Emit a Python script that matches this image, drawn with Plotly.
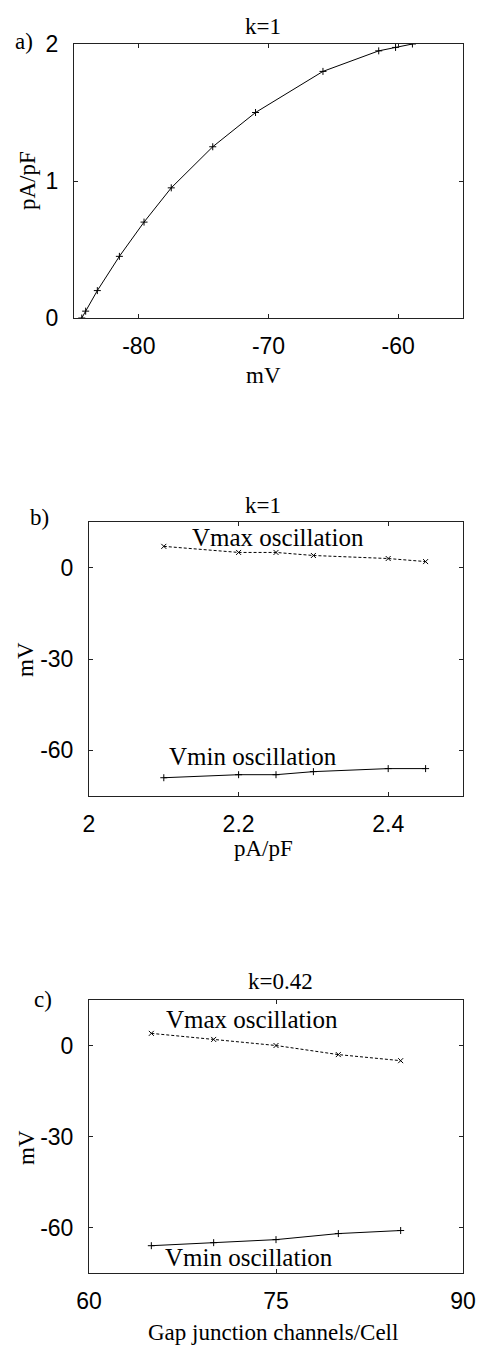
import plotly.graph_objects as go

# ---- data ----
a_mv = [-84.4, -84.1, -83.2, -81.5, -79.6, -77.5, -74.3, -71.0, -65.8, -61.5, -60.2, -58.9]
a_current = [0.0, 0.05, 0.2, 0.45, 0.7, 0.95, 1.25, 1.5, 1.8, 1.95, 1.975, 2.0]

b_current = [2.1, 2.2, 2.25, 2.3, 2.4, 2.45]
b_vmax = [7, 5, 5, 4, 3, 2]
b_vmin = [-69, -68, -68, -67, -66, -66]

c_channels = [65, 70, 75, 80, 85]
c_vmax = [4, 2, 0, -3, -5]
c_vmin = [-66, -65, -64, -62, -61]

a_xticks = [-80, -70, -60]
a_yticks = [0, 1, 2]
b_xticks = [2, 2.2, 2.4]
c_xticks = [60, 75, 90]
v_ticks = [-60, -30, 0]

W, H = 483, 1345
SERIF = "Liberation Serif, Times New Roman, serif"
SANS = "Liberation Sans, Arial, sans-serif"

def fx(p):
    return p / W

def fy(p):
    return 1 - p / H

def lbl(vals):
    return [str(v).replace("\u2212", "-") for v in vals]

fig = go.Figure()

line_solid = dict(color="black", width=1)
line_dash = dict(color="black", width=1, dash="3px,2px")
mk_plus = dict(symbol="cross-thin", size=5, line=dict(color="black", width=1), color="black")
mk_x = dict(symbol="x-thin", size=5, line=dict(color="black", width=1), color="black")

fig.add_trace(go.Scatter(x=a_mv, y=a_current, mode="lines+markers", line=line_solid,
                         marker=mk_plus, xaxis="x", yaxis="y", showlegend=False))
fig.add_trace(go.Scatter(x=b_current, y=b_vmax, mode="lines+markers", line=line_dash,
                         marker=mk_x, xaxis="x2", yaxis="y2", showlegend=False))
fig.add_trace(go.Scatter(x=b_current, y=b_vmin, mode="lines+markers", line=line_solid,
                         marker=mk_plus, xaxis="x2", yaxis="y2", showlegend=False))
fig.add_trace(go.Scatter(x=c_channels, y=c_vmax, mode="lines+markers", line=line_dash,
                         marker=mk_x, xaxis="x3", yaxis="y3", showlegend=False))
fig.add_trace(go.Scatter(x=c_channels, y=c_vmin, mode="lines+markers", line=line_solid,
                         marker=mk_plus, xaxis="x3", yaxis="y3", showlegend=False))

axis_common = dict(showline=True, linecolor="#222", linewidth=1, mirror="ticks",
                   ticks="inside", ticklen=4, tickcolor="#222", tickwidth=1,
                   showgrid=False, zeroline=False, automargin=False,
                   tickfont=dict(family=SANS, size=23, color="black"))

fig.update_layout(
    template="none",
    width=W, height=H, margin=dict(l=0, r=0, t=0, b=0, autoexpand=False),
    paper_bgcolor="white", plot_bgcolor="white", showlegend=False,
    xaxis=dict(domain=[fx(74), fx(463)], anchor="y", range=[-85, -55],
               tickvals=a_xticks, ticktext=lbl(a_xticks), ticklabelstandoff=7, **axis_common),
    yaxis=dict(domain=[fy(318), fy(44)], anchor="x", range=[0, 2],
               tickvals=a_yticks, ticktext=lbl(a_yticks), ticklabelstandoff=10, **axis_common),
    xaxis2=dict(domain=[fx(89), fx(463)], anchor="y2", range=[2, 2.5],
                tickvals=b_xticks, ticktext=lbl(b_xticks), ticklabelstandoff=7, **axis_common),
    yaxis2=dict(domain=[fy(796), fy(522)], anchor="x2", range=[-75, 15],
                tickvals=v_ticks, ticktext=lbl(v_ticks), ticklabelstandoff=10, **axis_common),
    xaxis3=dict(domain=[fx(89), fx(463)], anchor="y3", range=[60, 90],
                tickvals=c_xticks, ticktext=lbl(c_xticks), ticklabelstandoff=7, **axis_common),
    yaxis3=dict(domain=[fy(1273), fy(1000)], anchor="x3", range=[-75, 15],
                tickvals=v_ticks, ticktext=lbl(v_ticks), ticklabelstandoff=10, **axis_common),
)

def ann(text, x, y, size=23, angle=0, **kw):
    fig.add_annotation(text=text, x=fx(x), y=fy(y), xref="paper", yref="paper",
                       showarrow=False, textangle=angle, xanchor="center", yanchor="middle",
                       font=dict(family=SERIF, size=size, color="black"), **kw)

# panel labels & titles
ann("a)", 24, 41)
ann("k=1", 263, 27)
ann("mV", 263, 375)
ann("pA/pF", 27, 181, angle=-90)

ann("b)", 39, 517)
ann("k=1", 263, 505)
ann("pA/pF", 263, 848)
ann("mV", 25, 660, angle=-90)

ann("c)", 43, 1000)
ann("k=0.42", 280, 981)
ann("Gap junction channels/Cell", 273, 1332)
ann("mV", 26, 1148, angle=-90)

# in-plot labels (data coordinates)
def dann(text, x, y, xr, yr):
    fig.add_annotation(text=text, x=x, y=y, xref=xr, yref=yr, showarrow=False,
                       xanchor="center", yanchor="middle",
                       font=dict(family=SERIF, size=25, color="black"))

dann("Vmax oscillation", 2.253, 10, "x2", "y2")
dann("Vmin oscillation", 2.219, -62, "x2", "y2")
dann("Vmax oscillation", 73.1, 8.6, "x3", "y3")
dann("Vmin oscillation", 72.8, -70, "x3", "y3")

fig.write_html("out.html", config={"displayModeBar": False},
               post_script="document.body.style.margin='0';document.body.style.overflow='hidden';")
